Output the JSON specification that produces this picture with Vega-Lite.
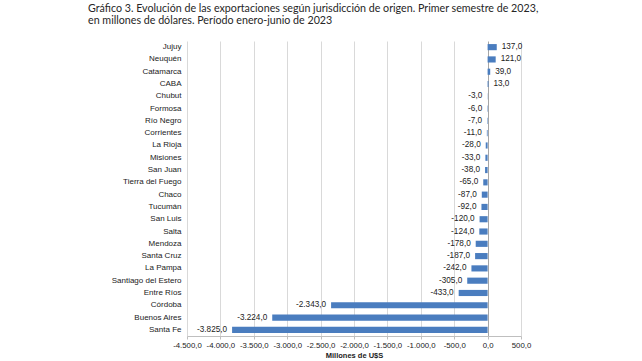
{
  "$schema": "https://vega.github.io/schema/vega-lite/v6.json",
  "autosize": "none",
  "width": 334,
  "height": 295,
  "padding": {"left": 187, "top": 41, "right": 121, "bottom": 25},
  "background": "white",
  "config": {
    "locale": {"number": {"decimal": ",", "thousands": ".", "grouping": [3], "currency": ["$", ""], "minus": "-"}},
    "view": {"stroke": null},
    "font": "Liberation Sans"
  },
  "title": {
    "text": ["Gráfico 3. Evolución de las exportaciones según jurisdicción de origen. Primer semestre de 2023,", "en millones de dólares. Período enero-junio de 2023"],
    "anchor": "start",
    "frame": "group",
    "dx": -99,
    "font": "Lato",
    "fontSize": 10.7,
    "fontWeight": "normal",
    "color": "#262626",
    "lineHeight": 12,
    "offset": 14
  },
  "data": {
    "values": [
      {"provincia": "Jujuy", "valor": 137},
      {"provincia": "Neuquén", "valor": 121},
      {"provincia": "Catamarca", "valor": 39},
      {"provincia": "CABA", "valor": 13},
      {"provincia": "Chubut", "valor": -3},
      {"provincia": "Formosa", "valor": -6},
      {"provincia": "Río Negro", "valor": -7},
      {"provincia": "Corrientes", "valor": -11},
      {"provincia": "La Rioja", "valor": -28},
      {"provincia": "Misiones", "valor": -33},
      {"provincia": "San Juan", "valor": -38},
      {"provincia": "Tierra del Fuego", "valor": -65},
      {"provincia": "Chaco", "valor": -87},
      {"provincia": "Tucumán", "valor": -92},
      {"provincia": "San Luis", "valor": -120},
      {"provincia": "Salta", "valor": -124},
      {"provincia": "Mendoza", "valor": -178},
      {"provincia": "Santa Cruz", "valor": -187},
      {"provincia": "La Pampa", "valor": -242},
      {"provincia": "Santiago del Estero", "valor": -305},
      {"provincia": "Entre Ríos", "valor": -433},
      {"provincia": "Córdoba", "valor": -2343},
      {"provincia": "Buenos Aires", "valor": -3224},
      {"provincia": "Santa Fe", "valor": -3825}
    ]
  },
  "encoding": {
    "y": {
      "field": "provincia",
      "type": "nominal",
      "sort": null,
      "scale": {"paddingInner": 0.5, "paddingOuter": 0.25},
      "axis": {
        "title": null,
        "domain": false,
        "ticks": false,
        "labelPadding": 6,
        "labelFontSize": 8,
        "labelColor": "#222222"
      }
    },
    "x": {
      "field": "valor",
      "type": "quantitative",
      "scale": {"domain": [-4500, 500], "nice": false, "zero": false},
      "axis": {
        "values": [-4500, -4000, -3500, -3000, -2500, -2000, -1500, -1000, -500, 0, 500],
        "format": ",.1f",
        "title": "Millones de U$S",
        "titleFontSize": 7.5,
        "titleFontWeight": "bold",
        "titleColor": "#222222",
        "titlePadding": 3,
        "labelFontSize": 7.8,
        "labelColor": "#222222",
        "labelPadding": 2,
        "labelOverlap": false,
        "labelFlush": false,
        "grid": true,
        "gridColor": {"condition": {"test": "datum.value === 0", "value": "#a6a6a6"}, "value": "#d9d9d9"},
        "domainColor": "#bfbfbf",
        "tickColor": "#bfbfbf",
        "tickSize": 3
      }
    }
  },
  "layer": [
    {
      "mark": {"type": "bar", "color": "#4a7dbf"}
    },
    {
      "transform": [{"filter": "datum.valor >= 0"}],
      "mark": {"type": "text", "align": "left", "dx": 5, "fontSize": 8.2, "color": "#222222"},
      "encoding": {
        "text": {"field": "valor", "type": "quantitative", "format": ",.1f"}
      }
    },
    {
      "transform": [{"filter": "datum.valor < 0"}],
      "mark": {"type": "text", "align": "right", "dx": -5, "fontSize": 8.2, "color": "#222222"},
      "encoding": {
        "text": {"field": "valor", "type": "quantitative", "format": ",.1f"}
      }
    }
  ]
}
